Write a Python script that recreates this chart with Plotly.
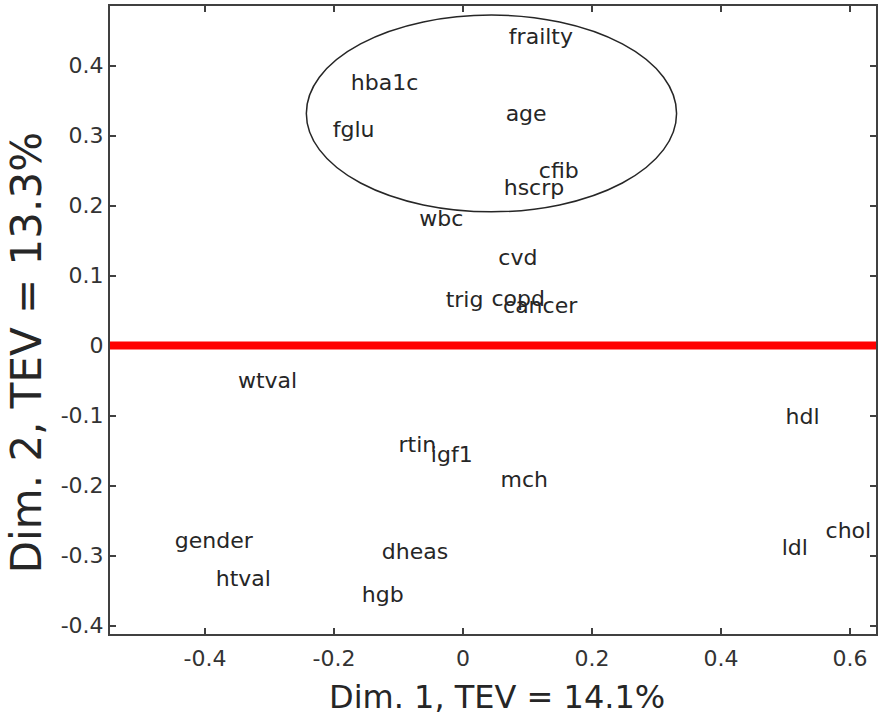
import plotly.graph_objects as go

# Variable loadings (label left edge x, vertical centre y)
labels = ["frailty", "hba1c", "fglu", "age", "cfib", "hscrp", "wbc", "cvd",
          "trig", "copd", "cancer", "wtval", "hdl", "rtin", "igf1", "mch",
          "gender", "dheas", "chol", "ldl", "htval", "hgb"]
dim1 = [0.071, -0.174, -0.202, 0.066, 0.1175, 0.063, -0.068, 0.0546,
        -0.027, 0.044, 0.062, -0.349, 0.500, -0.100, -0.050, 0.058,
        -0.447, -0.126, 0.562, 0.494, -0.3835, -0.157]
dim2 = [0.439, 0.373, 0.306, 0.328, 0.247, 0.223, 0.179, 0.1225,
        0.063, 0.065, 0.054, -0.0525, -0.1037, -0.1437, -0.1584, -0.194,
        -0.282, -0.2965, -0.267, -0.291, -0.3356, -0.358]

x_ticks = [-0.4, -0.2, 0, 0.2, 0.4, 0.6]
x_tick_text = ["-0.4", "-0.2", "0", "0.2", "0.4", "0.6"]
y_ticks = [-0.4, -0.3, -0.2, -0.1, 0, 0.1, 0.2, 0.3, 0.4]
y_tick_text = ["-0.4", "-0.3", "-0.2", "-0.1", "0", "0.1", "0.2", "0.3", "0.4"]

x_range = [-0.5474, 0.6402]
y_range = [-0.412, 0.485]

# Highlight ellipse (data coordinates)
ellipse_x = [-0.243, 0.331]
ellipse_y = [0.191, 0.472]

x_title = "Dim. 1, TEV = 14.1%"
y_title = "Dim. 2, TEV = 13.3%"

FONT = "DejaVu Sans"
TXT = "#262626"

fig = go.Figure()
fig.add_trace(go.Scatter(
    x=dim1, y=dim2, text=labels, mode="text",
    textposition="middle right",
    textfont=dict(family=FONT, size=22, color=TXT),
    hoverinfo="skip", showlegend=False,
))

fig.add_shape(type="line", xref="paper", yref="y", x0=0, x1=1, y0=0, y1=0,
              line=dict(color="#ff0000", width=8), layer="above")
fig.add_shape(type="circle", xref="x", yref="y",
              x0=ellipse_x[0], x1=ellipse_x[1], y0=ellipse_y[0], y1=ellipse_y[1],
              line=dict(color=TXT, width=1.5))

axis_common = dict(
    showgrid=False, zeroline=False, showline=True, linecolor="#404040", linewidth=2,
    mirror="allticks", ticks="inside", ticklen=6, tickwidth=1.5, tickcolor="#404040",
    tickfont=dict(family=FONT, size=22, color="#333333"),
)
fig.update_xaxes(range=x_range, tickvals=x_ticks, ticktext=x_tick_text,
                 ticklabelstandoff=4, **axis_common)
fig.update_yaxes(range=y_range, tickvals=y_ticks, ticktext=y_tick_text, **axis_common)

fig.add_annotation(text=x_title, xref="paper", yref="paper", x=0.5046, y=-0.100,
                   xanchor="center", yanchor="middle", showarrow=False,
                   font=dict(family=FONT, size=32, color=TXT))
fig.add_annotation(text=y_title, xref="paper", yref="paper", x=-0.108, y=0.4475,
                   xanchor="center", yanchor="middle", showarrow=False, textangle=-90,
                   font=dict(family=FONT, size=42, color=TXT))

fig.update_layout(
    width=878, height=721,
    margin=dict(l=110, r=0, t=6, b=87),
    plot_bgcolor="white", paper_bgcolor="white",
)

fig.write_html("out.html")
